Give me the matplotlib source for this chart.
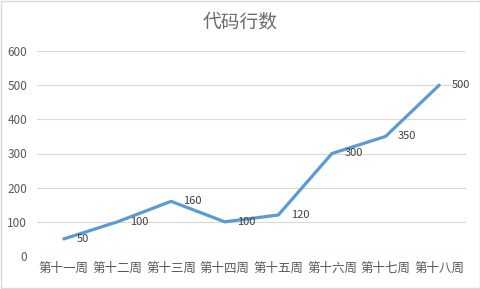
import matplotlib.pyplot as plt
from matplotlib.patches import Rectangle

plt.rcParams['font.family'] = ['Noto Sans CJK SC', 'DejaVu Sans']

weeks = ['第十一周', '第十二周', '第十三周', '第十四周', '第十五周', '第十六周', '第十七周', '第十八周']
lines = [50, 100, 160, 100, 120, 300, 350, 500]
yticks = [0, 100, 200, 300, 400, 500, 600]

text_col = '#595959'
grid_col = '#d9d9d9'

fig = plt.figure(figsize=(4.81, 2.89), dpi=100)
ax = fig.add_axes([37 / 481, 33 / 289, 429 / 481, 205 / 289])

x = list(range(len(weeks)))
ax.plot(x, lines, color='#5b9bd5', linewidth=2.3, solid_capstyle='round', zorder=3)
for xi, v in zip(x, lines):
    ax.annotate(str(v), (xi, v), xytext=(9, 0), textcoords='offset points',
                ha='left', va='center', fontsize=8, color='#404040')

ax.set_xlim(-0.5, len(weeks) - 0.5)
ax.set_ylim(0, 600)
ax.set_yticks(yticks)
ax.set_xticks(x)
ax.set_xticklabels(weeks, fontsize=9, color=text_col)
ax.tick_params(axis='y', labelsize=8.5, labelcolor=text_col, length=0, pad=7)
ax.tick_params(axis='x', length=0, pad=4)
ax.grid(axis='y', color=grid_col, linewidth=0.8)
ax.set_axisbelow(True)
for s in ax.spines.values():
    s.set_visible(False)

fig.text(0.5, 1 - 22 / 289, '代码行数', ha='center', va='center', fontsize=13.5,
         color='#6b6b6b', fontweight='light')
fig.patches.append(Rectangle((0.002, 0.003), 0.995, 0.993, transform=fig.transFigure,
                             fill=False, edgecolor=grid_col, linewidth=1))

fig.savefig('out.png', dpi=100)
